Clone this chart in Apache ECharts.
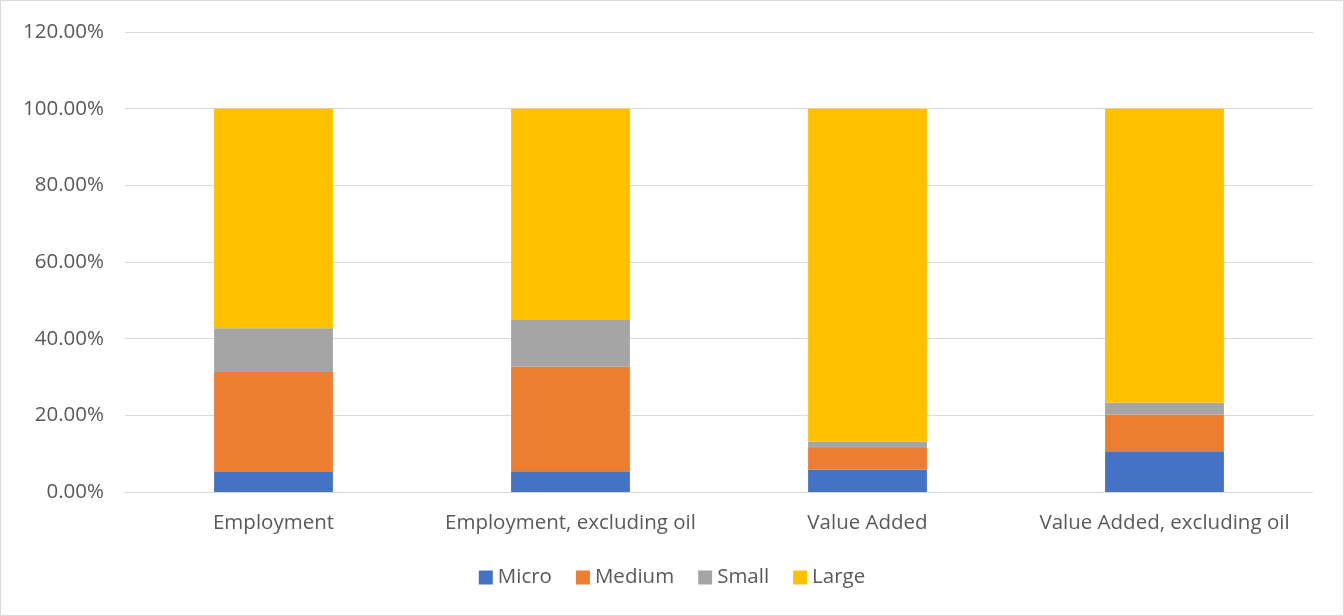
<!DOCTYPE html>
<html>
<head>
<meta charset="utf-8">
<script src="https://cdn.jsdelivr.net/npm/echarts@6/dist/echarts.min.js"></script>
<style>
  html, body { margin: 0; padding: 0; background: #fff; }
  #chart { width: 1344px; height: 616px; box-sizing: border-box; border: 1px solid #d9d9d9; }
</style>
</head>
<body>
<div id="chart"></div>
<script>
// Share of enterprises by size class (%)
const categories = ['Employment', 'Employment, excluding oil', 'Value Added', 'Value Added, excluding oil'];
const micro  = [5.2, 5.4, 5.9, 10.6];
const medium = [26.1, 27.3, 5.6, 9.6];
const small  = [11.4, 12.2, 1.7, 3.1];
const large  = [57.3, 55.1, 86.8, 76.7];
const yTicks = { min: 0, max: 120, interval: 20 };

const font = 'Open Sans, Liberation Sans, sans-serif';
const textColor = '#595959';
const fontSize = 20.5;

function bar(name, data, color) {
  return {
    name: name,
    type: 'bar',
    stack: 'total',
    data: data,
    barWidth: '40%',
    itemStyle: { color: color },
    emphasis: { disabled: true }
  };
}

const chart = echarts.init(document.getElementById('chart'));
chart.setOption({
  animation: false,
  textStyle: { fontFamily: font },
  grid: { left: 124, right: 30, top: 31, bottom: 123, containLabel: false },
  legend: {
    bottom: 22,
    left: 'center',
    itemWidth: 14,
    itemHeight: 14,
    itemGap: 24,
    icon: 'rect',
    textStyle: { color: textColor, fontSize: fontSize, fontFamily: font },
    data: ['Micro', 'Medium', 'Small', 'Large']
  },
  xAxis: {
    type: 'category',
    data: categories,
    axisLine: { lineStyle: { color: '#d9d9d9', width: 1 } },
    axisTick: { show: false },
    axisLabel: { color: textColor, fontSize: fontSize, margin: 21, interval: 0, fontFamily: font }
  },
  yAxis: {
    type: 'value',
    min: yTicks.min,
    max: yTicks.max,
    interval: yTicks.interval,
    axisLine: { show: false },
    axisTick: { show: false },
    splitLine: { lineStyle: { color: '#d9d9d9', width: 1 } },
    axisLabel: {
      color: textColor,
      fontSize: fontSize,
      margin: 21,
      fontFamily: font,
      formatter: v => v.toFixed(2) + '%'
    }
  },
  series: [
    bar('Micro', micro, '#4472c4'),
    bar('Medium', medium, '#ed7d31'),
    bar('Small', small, '#a5a5a5'),
    bar('Large', large, '#ffc000')
  ]
});
</script>
</body>
</html>
